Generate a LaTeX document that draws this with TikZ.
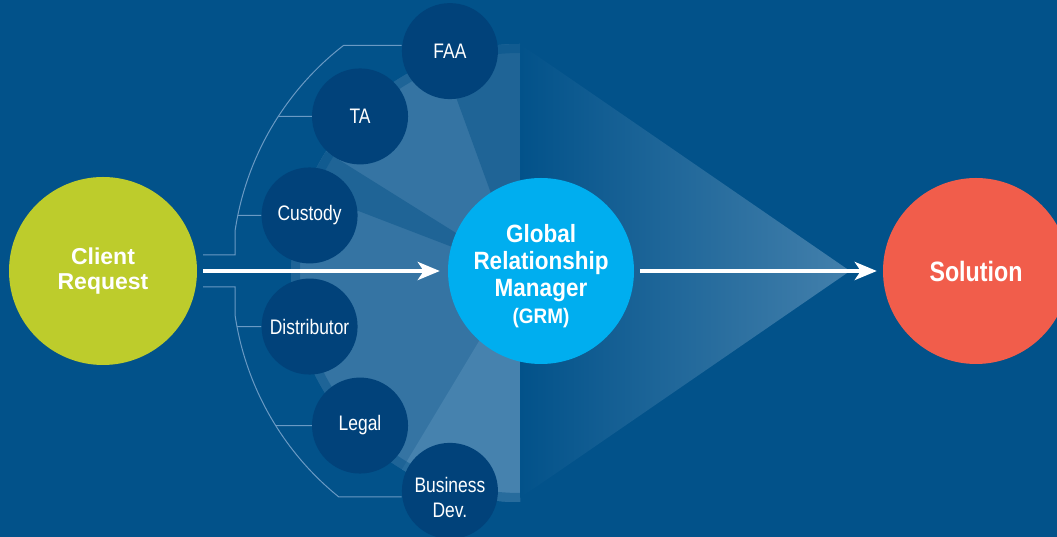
\documentclass[tikz,border=0pt]{standalone}
\usepackage{fontspec}
\setmainfont{Liberation Sans}
\newfontfamily\condfont{Liberation Sans}[FakeStretch=0.83]
\newfontfamily\headfont{Liberation Sans}[FakeStretch=0.9]
\usepackage{xcolor}
\usepackage{tikz}
\usetikzlibrary{arrows.meta}

\definecolor{bgblue}{HTML}{02528A}
\definecolor{navy}{HTML}{01427A}
\definecolor{grmblue}{HTML}{00AEEF}
\definecolor{lime}{HTML}{BDCC2C}
\definecolor{solred}{HTML}{F15D4B}
\definecolor{fanlight}{HTML}{3574A3}
\definecolor{fandark}{HTML}{1F6496}
\definecolor{fanpale}{HTML}{4682AE}
\definecolor{glow}{HTML}{4380AC}
\definecolor{linkblue}{HTML}{6A9AC4}

\pgfdeclarelayer{background}
\pgfsetlayers{background,main}

\begin{document}
\begin{tikzpicture}[x=1pt,y=1pt,
	member/.style={circle, fill=navy, minimum size=96pt, inner sep=0pt, text=white, align=center, font=\condfont\fontsize{21}{25}\selectfont},
	hub/.style={circle, minimum size=186pt, inner sep=0pt, text=white, align=center},
	link/.style={draw=linkblue, line width=1pt},
	flow/.style={draw=white, line width=4.5pt, -{Stealth[length=22pt,width=18pt,inset=6pt]}}]
	\useasboundingbox (0,0) rectangle (1057,537);
	\clip (0,0) rectangle (1057,537);

	% main circles
	\node[hub, fill=lime, minimum size=188pt, font=\bfseries\fontsize{23}{25}\selectfont] (client) at (103,266) {Client\\Request};
	\node[hub, fill=grmblue, font=\headfont\bfseries\fontsize{25}{27}\selectfont] (grm) at (541,266) {\rule{0pt}{29pt}Global\\Relationship\\Manager\\{\fontsize{21}{25}\selectfont(GRM)}};
	\node[hub, fill=solred, font=\condfont\bfseries\fontsize{28}{30}\selectfont] (sol) at (976,266) {Solution};

	% partners round the GRM
	\foreach \ang/\name/\txt in {112.5/FAA/FAA, 139.5/TA/TA, 166.5/Cust/Custody, 193.5/Dist/Distributor, 220.5/Legal/Legal, 247.5/BDev/{\rule{0pt}{29pt}Business\\Dev.}}
		\node[member] (\name) at ([shift={(\ang:238)}]grm) {\txt};

	\draw[flow, shorten <=6pt, shorten >=8pt] (client) -- (grm);
	\draw[flow, shorten <=6pt, shorten >=6pt] (grm) -- (sol);

	\begin{pgfonlayer}{background}
		\fill[bgblue] (0,0) rectangle (1057,537);
		% fan behind the partners
		\coordinate (F) at (520,264);
		\fill[fanlight] ([shift={(90:229)}]F) arc[start angle=90, end angle=270, radius=229] -- cycle;
		\foreach \a/\b/\c in {90/110/fandark, 148/159/fandark, 239/270/fanpale}
			\fill[\c] (F) -- ([shift={(\a:229)}]F) arc[start angle=\a, end angle=\b, radius=229] -- cycle;
		\fill[bgblue, opacity=.45] ([shift={(90:229)}]F) arc[start angle=90, end angle=270, radius=229]
			-- ([shift={(270:220)}]F) arc[start angle=270, end angle=90, radius=220] -- cycle;
		\shade[left color=bgblue, right color=glow] (520,493) -- (850,266) -- (520,39) -- cycle;

		% lines from the client
		\draw[link] ([shift={(6,16)}]client.east) -- ++(32,0) -- ++(0,25)
			arc[start angle=171.4, end angle=127.8, radius=288] coordinate (u3) -- (u3 -| FAA.west);
		\draw[link] ([shift={(6,-16)}]client.east) -- ++(32,0) -- ++(0,-29.1)
			arc[start angle=188.6, end angle=231, radius=288] coordinate (l3) -- (l3 -| BDev.west);
		\foreach \p/\n in {{278.3,420.6}/TA, {237.6,321.6}/Cust, {236.8,210.4}/Dist, {275.5,111.4}/Legal}
			\draw[link] (\p) -- (\n);
	\end{pgfonlayer}
\end{tikzpicture}
\end{document}
